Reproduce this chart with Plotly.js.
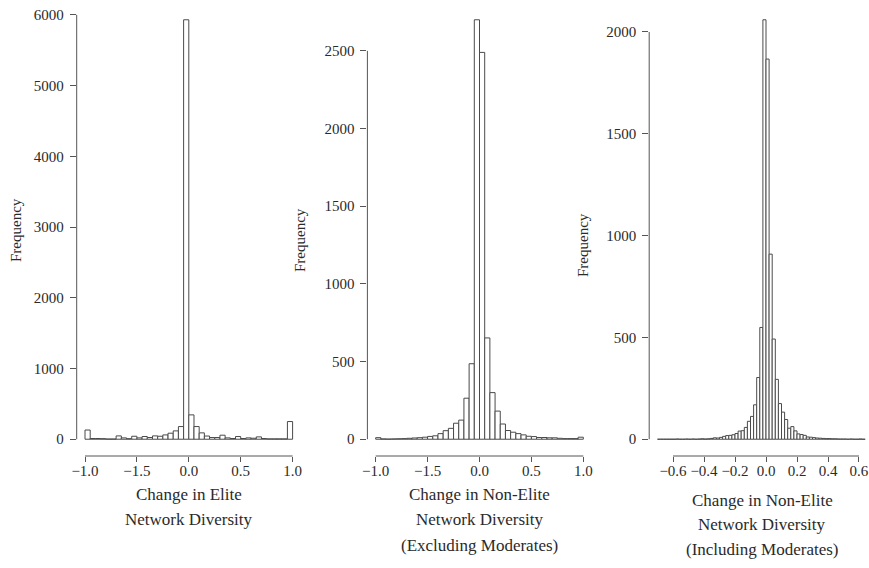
<!DOCTYPE html>
<html>
<head>
<meta charset="utf-8">
<script src="https://cdn.plot.ly/plotly-3.0.1.min.js"></script>
<style>html,body{margin:0;padding:0;background:#fff;}#chart{width:869px;height:568px;}</style>
</head>
<body>
<div id="chart"></div>
<script>
// ---- data ----
// Panel 1: Change in Elite Network Diversity, bins of 0.05 from -1 to 1
const eliteBinStart = -1.0;
const eliteBinWidth = 0.05;
const eliteCounts = [130, 10, 10, 8, 3, 3, 47, 19, 8, 42, 19, 38, 24, 47, 42, 61, 85, 118, 179, 5930,
                     344, 179, 90, 45, 24, 24, 57, 19, 10, 38, 10, 19, 14, 33, 10, 5, 5, 5, 5, 250];
// Panel 2: Non-Elite (Excluding Moderates), bins of 0.05 from -1 to 1
const exclBinStart = -1.0;
const exclBinWidth = 0.05;
const exclCounts = [10, 2, 1, 2, 3, 4, 6, 8, 10, 13, 18, 22, 36, 55, 70, 103, 123, 264, 486, 2700,
                    2490, 652, 300, 181, 98, 56, 45, 36, 28, 19, 17, 11, 11, 9, 9, 6, 4, 4, 4, 13];
// Panel 3: Non-Elite (Including Moderates), bins of 0.02 from -0.70 to 0.64
const inclBinStart = -0.70;
const inclBinWidth = 0.02;
const inclCounts = [0, 0, 0, 0, 0, 0, 1, 0, 0, 1, 0, 1, 0, 1, 2, 1, 2,
                    4, 7, 6, 9, 14, 18, 19, 22, 28, 40, 42, 58, 88, 112, 169, 303, 549,
                    2060, 1867, 909, 492, 294, 175, 133, 97, 54, 62, 41, 26, 23, 19, 11, 10, 8, 6,
                    5, 4, 3, 3, 2, 2, 1, 1, 1, 0, 1, 0, 0, 1, 0];

// tick values / labels
const eliteXTicks = [-1, -0.5, 0, 0.5, 1];
const eliteXLabels = ["\u22121.0", "\u22121.5", "0.0", "0.5", "1.0"];
const eliteYTicks = [0, 1000, 2000, 3000, 4000, 5000, 6000];
const exclXTicks = [-1, -0.5, 0, 0.5, 1];
const exclXLabels = ["\u22121.0", "\u22121.5", "0.0", "0.5", "1.0"];
const exclYTicks = [0, 500, 1000, 1500, 2000, 2500];
const inclXTicks = [-0.6, -0.4, -0.2, 0, 0.2, 0.4, 0.6];
const inclXLabels = ["\u22120.6", "\u22120.4", "\u22120.2", "0.0", "0.2", "0.4", "0.6"];
const inclYTicks = [0, 500, 1000, 1500, 2000];

const titles1 = ["Change in Elite", "Network Diversity"];
const titles2 = ["Change in Non-Elite", "Network Diversity", "(Excluding Moderates)"];
const titles3 = ["Change in Non-Elite", "Network Diversity", "(Including Moderates)"];
const yTitle = "Frequency";

// ---- layout helpers ----
const W = 869, H = 568;
const FONT = "Liberation Serif, Times New Roman, serif";
const AX = '#555';
const TXT = '#2a2a2a';
const fx = p => p / W;
const fy = p => 1 - p / H;
const yDom = [fy(456), fy(3)];

function centers(start, w, counts) { return counts.map((_, i) => start + w * (i + 0.5)); }
function barTrace(start, w, counts, xa, ya) {
  return {
    type: 'bar', x: centers(start, w, counts), y: counts, width: w,
    xaxis: xa, yaxis: ya,
    marker: {color: '#ffffff', line: {color: '#4a4a4a', width: 1}},
    hoverinfo: 'x+y', showlegend: false
  };
}
function ext(lo, hi) { const d = (hi - lo) * 0.04; return [lo - d, hi + d]; }

const traces = [
  barTrace(eliteBinStart, eliteBinWidth, eliteCounts, 'x', 'y'),
  barTrace(exclBinStart, exclBinWidth, exclCounts, 'x2', 'y2'),
  barTrace(inclBinStart, inclBinWidth, inclCounts, 'x3', 'y3')
];

function xAxis(dom, range, tv, tt) {
  return {domain: dom, range: range, tickvals: tv, ticktext: tt, ticks: 'outside', ticklen: 5,
    tickwidth: 1, tickcolor: AX, showline: false, showgrid: false, zeroline: false,
    tickfont: {family: FONT, size: 15, color: TXT}, automargin: false, fixedrange: true,
    ticklabelstandoff: -4};
}
function yAxis(range, tv, anchor) {
  return {domain: yDom, range: range, tickvals: tv, ticks: 'outside', ticklen: 6, tickwidth: 1,
    tickcolor: AX, showline: false, showgrid: false, zeroline: false, anchor: anchor,
    tickfont: {family: FONT, size: 15, color: TXT}, automargin: false, fixedrange: true,
    ticklabelstandoff: 3};
}

const max1 = Math.max(...eliteCounts), max2 = Math.max(...exclCounts), max3 = Math.max(...inclCounts);
const inclEnd = inclBinStart + inclBinWidth * inclCounts.length;
const r3 = ext(inclBinStart, inclEnd);

const layout = {
  width: W, height: H,
  margin: {l: 0, r: 0, t: 0, b: 0, pad: 0},
  paper_bgcolor: '#fff', plot_bgcolor: '#fff',
  bargap: 0,
  font: {family: FONT, color: TXT},
  xaxis: xAxis([fx(76.7), fx(300.9)], ext(-1, 1), eliteXTicks, eliteXLabels),
  yaxis: yAxis(ext(0, max1), eliteYTicks, 'x'),
  xaxis2: Object.assign(xAxis([fx(367.4), fx(591.6)], ext(-1, 1), exclXTicks, exclXLabels), {anchor: 'y2'}),
  yaxis2: yAxis(ext(0, max2), exclYTicks, 'x2'),
  xaxis3: Object.assign(xAxis([fx(649.2), 1], [r3[0], r3[0] + (r3[1] - r3[0]) * (W - 649.2) / 224.3], inclXTicks, inclXLabels), {anchor: 'y3'}),
  yaxis3: yAxis(ext(0, max3), inclYTicks, 'x3'),
  shapes: [],
  annotations: []
};
layout.xaxis.anchor = 'y';

// axis lines spanning only the tick range (R style)
[['x', 'y', eliteXTicks, eliteYTicks], ['x2', 'y2', exclXTicks, exclYTicks], ['x3', 'y3', inclXTicks, inclYTicks]].forEach(([xa, ya, xt, yt]) => {
  layout.shapes.push({type: 'line', xref: xa + ' domain', yref: ya, x0: 0, x1: 0,
    y0: yt[0], y1: yt[yt.length - 1], line: {color: AX, width: 1}});
  layout.shapes.push({type: 'line', xref: xa, yref: ya + ' domain', x0: xt[0], x1: xt[xt.length - 1],
    y0: 0, y1: 0, line: {color: AX, width: 1}});
});

function addLines(lines, cx, ys) {
  lines.forEach((t, i) => layout.annotations.push({text: t, xref: 'paper', yref: 'paper',
    x: fx(cx), y: fy(ys[i]), xanchor: 'center', yanchor: 'middle', showarrow: false,
    font: {family: FONT, size: 17, color: TXT}}));
}
addLines(titles1, 189, [494, 519]);
addLines(titles2, 479.5, [494, 519, 545]);
addLines(titles3, 762, [500, 524, 549]);

[[16, 230], [300, 240], [583, 245]].forEach(([cx, cy]) => layout.annotations.push({
  text: yTitle, xref: 'paper', yref: 'paper', x: fx(cx), y: fy(cy), xanchor: 'center', yanchor: 'middle',
  textangle: -90, showarrow: false, font: {family: FONT, size: 15, color: TXT}}));

Plotly.newPlot('chart', traces, layout, {displayModeBar: false, staticPlot: true});
</script>
</body>
</html>
